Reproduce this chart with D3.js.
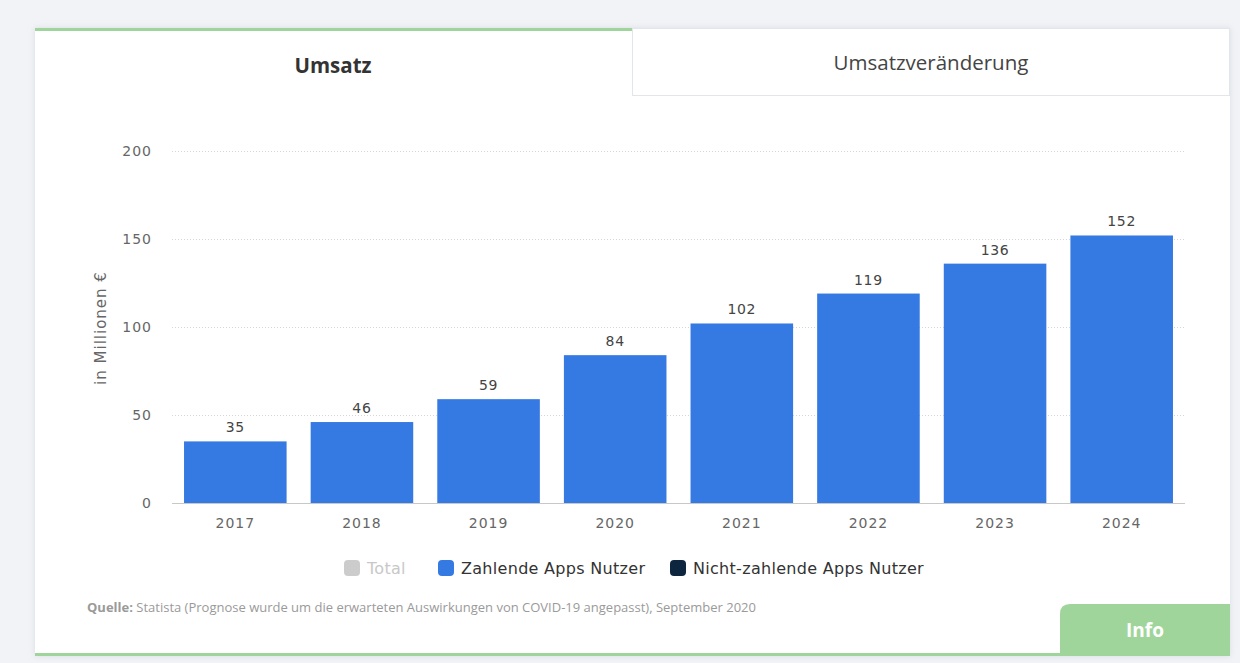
<!DOCTYPE html>
<html>
<head>
<meta charset="utf-8">
<script src="https://cdn.jsdelivr.net/npm/d3@7"></script>
<style>
  body { margin: 0; background: #f1f3f6; }
  svg { display: block; }
</style>
</head>
<body>
<div id="chart-area"></div>
<script>
// SVG Size
var width = 1240,
	height = 663;

// data
var years = ["2017", "2018", "2019", "2020", "2021", "2022", "2023", "2024"];
var umsatz = [35, 46, 59, 84, 102, 119, 136, 152];
var yTicks = [0, 50, 100, 150, 200];
var legendItems = ["Total", "Zahlende Apps Nutzer", "Nicht-zahlende Apps Nutzer"];
var legendColors = ["#cccccc", "#3579e2", "#0e2540"];
var tabs = ["Umsatz", "Umsatzveränderung"];

var data = years.map(function(y, i) {
	return { year: y, value: umsatz[i] };
});

var svg = d3.select("#chart-area")
	.append("svg")
	.attr("width", width)
	.attr("height", height);

// card with a soft shadow
var defs = svg.append("defs");
var f = defs.append("filter").attr("id", "shadow").attr("x", -0.05).attr("y", -0.05).attr("width", 1.1).attr("height", 1.1);
f.append("feDropShadow").attr("dx", 0).attr("dy", 0).attr("stdDeviation", 3).attr("flood-color", "#c9cfd8").attr("flood-opacity", 0.6);

svg.append("rect")
	.attr("x", 35).attr("y", 28)
	.attr("width", 1195).attr("height", 628)
	.attr("fill", "#fff")
	.attr("filter", "url(#shadow)");

// bottom green line
svg.append("rect")
	.attr("x", 35).attr("y", 653)
	.attr("width", 1030).attr("height", 3)
	.attr("fill", "#9fd59b");

// tabs
svg.append("rect")
	.attr("x", 35).attr("y", 28)
	.attr("width", 597).attr("height", 3)
	.attr("fill", "#9fd59b");

svg.append("rect")
	.attr("x", 632.5).attr("y", 28.5)
	.attr("width", 597).attr("height", 67)
	.attr("fill", "#fff")
	.attr("stroke", "#e3e5e8");

svg.append("text")
	.attr("x", 333).attr("y", 73)
	.attr("text-anchor", "middle")
	.attr("font-family", "'Open Sans', sans-serif")
	.attr("font-weight", "bold")
	.attr("font-size", 20.5)
	.attr("fill", "#333")
	.text(tabs[0]);

svg.append("text")
	.attr("x", 931).attr("y", 70)
	.attr("text-anchor", "middle")
	.attr("font-family", "'Open Sans', sans-serif")
	.attr("font-size", 20.5)
	.attr("fill", "#444")
	.text(tabs[1]);

// scales
var x = d3.scaleBand()
	.domain(years)
	.range([172, 1185])
	.paddingInner(0.19)
	.paddingOuter(0.095);

var y = d3.scaleLinear()
	.domain([0, 200])
	.range([503, 151]);

// grid lines
svg.append("g")
	.selectAll("line")
	.data(yTicks.filter(function(d) { return d > 0; }))
	.enter()
	.append("line")
	.attr("x1", 172).attr("x2", 1185)
	.attr("y1", function(d) { return y(d) + 0.5; })
	.attr("y2", function(d) { return y(d) + 0.5; })
	.attr("stroke", "#d6d6d6")
	.attr("stroke-dasharray", "1,2");

// y axis
var yAxis = d3.axisLeft(y).tickValues(yTicks).tickSize(0).tickPadding(0);
var gy = svg.append("g")
	.attr("transform", "translate(152,0)")
	.call(yAxis);
gy.select(".domain").remove();
gy.selectAll("text")
	.attr("font-family", "'DejaVu Sans', sans-serif")
	.attr("font-size", 14)
	.attr("letter-spacing", 1)
	.attr("fill", "#666");

svg.append("text")
	.attr("transform", "translate(106,328) rotate(-90)")
	.attr("text-anchor", "middle")
	.attr("font-family", "'DejaVu Sans', sans-serif")
	.attr("font-size", 15)
	.attr("letter-spacing", 1)
	.attr("fill", "#666")
	.text("in Millionen €");

// bars
svg.append("g")
	.selectAll("rect")
	.data(data)
	.enter()
	.append("rect")
	.attr("x", function(d) { return x(d.year); })
	.attr("y", function(d) { return y(d.value); })
	.attr("width", x.bandwidth())
	.attr("height", function(d) { return y(0) - y(d.value); })
	.attr("fill", "#3579e2");

// value labels
svg.append("g")
	.selectAll("text")
	.data(data)
	.enter()
	.append("text")
	.attr("x", function(d) { return x(d.year) + x.bandwidth() / 2; })
	.attr("y", function(d) { return y(d.value) - 9; })
	.attr("text-anchor", "middle")
	.attr("font-family", "'DejaVu Sans', sans-serif")
	.attr("font-size", 14)
	.attr("letter-spacing", 0.7)
	.attr("fill", "#444")
	.text(function(d) { return d.value; });

// x axis
var xAxis = d3.axisBottom(x).tickSize(0).tickPadding(15);
var gx = svg.append("g")
	.attr("transform", "translate(0,503)")
	.call(xAxis);
gx.select(".domain").attr("stroke", "#c8c8c8").attr("d", "M172,0.5H1185");
gx.selectAll("text")
	.attr("font-family", "'DejaVu Sans', sans-serif")
	.attr("font-size", 14)
	.attr("letter-spacing", 1)
	.attr("fill", "#666");

// legend
var legendX = [344, 438, 670];
var leg = svg.append("g")
	.selectAll("g")
	.data(legendItems)
	.enter()
	.append("g")
	.attr("transform", function(d, i) { return "translate(" + legendX[i] + ",560)"; });

leg.append("rect")
	.attr("width", 16).attr("height", 16)
	.attr("rx", 4)
	.attr("fill", function(d, i) { return legendColors[i]; });

leg.append("text")
	.attr("x", 23).attr("y", 14)
	.attr("font-family", "'DejaVu Sans', sans-serif")
	.attr("font-size", 16)
	.attr("letter-spacing", 0.3)
	.attr("fill", function(d, i) { return i === 0 ? "#c8c8c8" : "#333"; })
	.text(function(d) { return d; });

// source
var src = svg.append("text")
	.attr("x", 87).attr("y", 612)
	.attr("font-family", "'Open Sans', sans-serif")
	.attr("font-size", 13)
	.attr("fill", "#9a9a9a");
src.append("tspan").attr("font-weight", "bold").text("Quelle:");
src.append("tspan").text(" Statista (Prognose wurde um die erwarteten Auswirkungen von COVID-19 angepasst), September 2020");

// info button
svg.append("path")
	.attr("d", "M1060,656V614Q1060,604 1070,604H1230V656Z")
	.attr("fill", "#9fd59b");

svg.append("text")
	.attr("x", 1145).attr("y", 637)
	.attr("text-anchor", "middle")
	.attr("font-family", "'Open Sans', sans-serif")
	.attr("font-weight", "bold")
	.attr("font-size", 19)
	.attr("fill", "#fff")
	.text("Info");
</script>
</body>
</html>
